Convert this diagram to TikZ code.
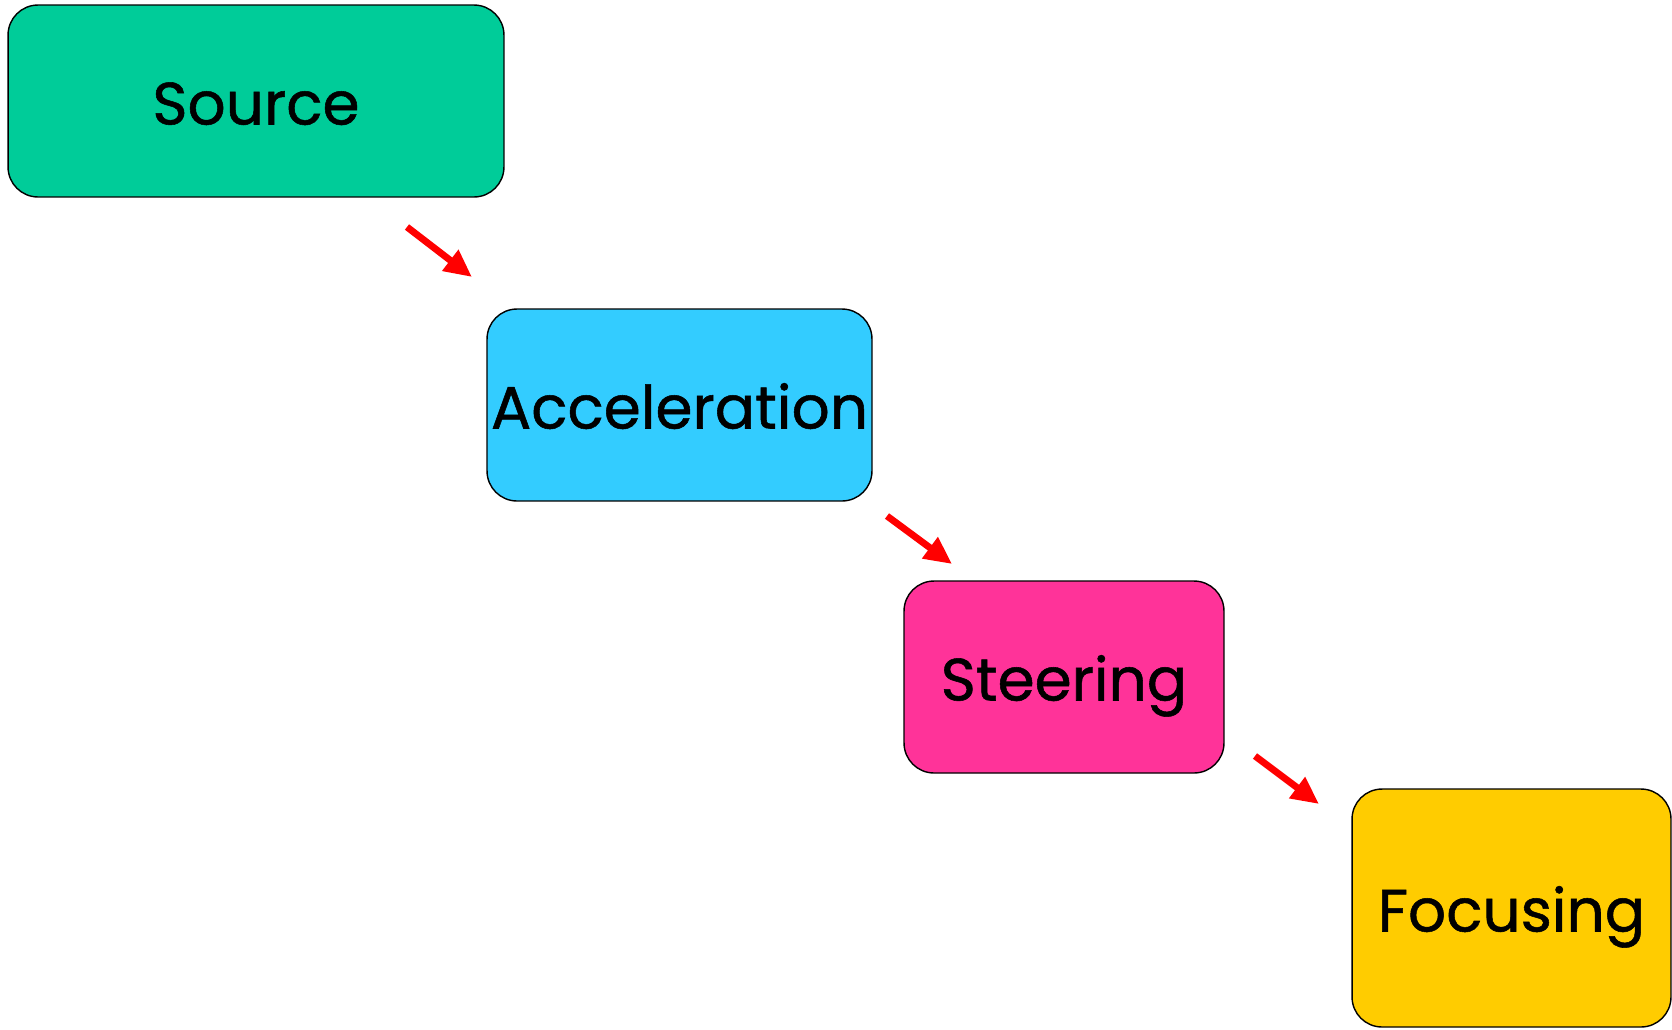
\documentclass[tikz,border=0pt]{standalone}
\usepackage{fontspec}
\setmainfont{Poppins}
\newfontfamily\stagefont{Poppins}[FakeBold=0.9]
\usepackage{xcolor}
\usetikzlibrary{arrows.meta}

\definecolor{srcgreen}{HTML}{00CC99}
\definecolor{accblue}{HTML}{33CCFF}
\definecolor{steerpink}{HTML}{FF3399}
\definecolor{focyellow}{HTML}{FFCC00}

\tikzset{
    stage/.style={draw=black, thick, rounded corners=0.6cm, inner sep=0pt,
        minimum height=3.84cm, text height=0.94cm, text depth=0pt,
        font=\stagefont\fontsize{34}{37}\selectfont},
    flow/.style={red, line width=3.9pt, -{Triangle[length=0.55cm, width=0.5cm]}}
}

\begin{document}
\begin{tikzpicture}[x=0.02cm, y=-0.02cm]

    \useasboundingbox (0,0) rectangle (1672,1029);

    % Stages
    \node[stage, fill=srcgreen, minimum width=9.92cm] (source) at (256,101) {Source};
    \node[stage, fill=accblue, minimum width=7.7cm] (accel) at (679.5,405) {Acceleration};
    \node[stage, fill=steerpink, minimum width=6.4cm] (steer) at (1064,677) {Steering};
    \node[stage, fill=focyellow, minimum width=6.38cm, minimum height=4.76cm] (focus) at (1511.5,908) {Focusing};

    % Arrows between stages
    \coordinate (a1s) at (407,227);
    \coordinate (a1e) at (472,277);
    \coordinate (a2s) at (887,516);
    \coordinate (a2e) at (952,564);
    \coordinate (a3s) at (1255,756);
    \coordinate (a3e) at (1319,804);

    \draw[flow] (a1s) -- (a1e);
    \draw[flow] (a2s) -- (a2e);
    \draw[flow] (a3s) -- (a3e);

\end{tikzpicture}
\end{document}
